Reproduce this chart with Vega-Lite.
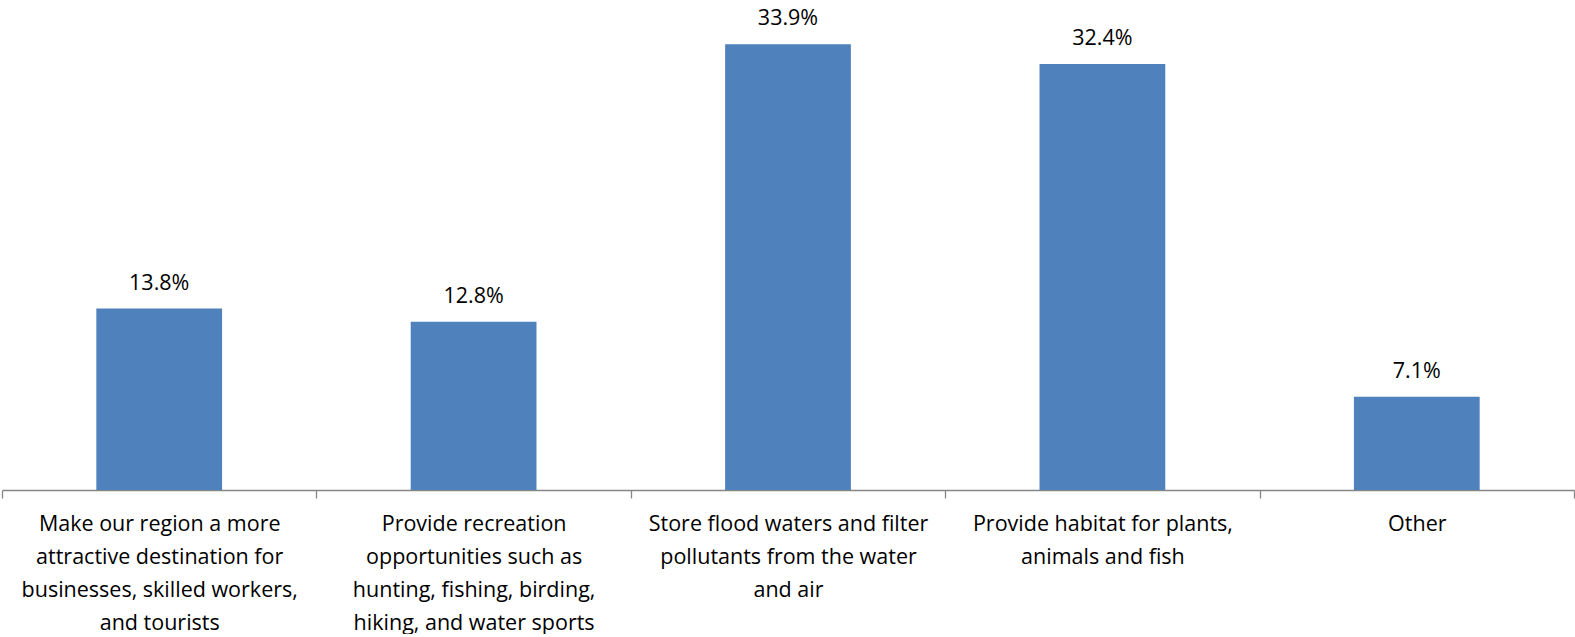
{
  "$schema": "https://vega.github.io/schema/vega-lite/v6.json",
  "width": 1572,
  "height": 490,
  "padding": {"left": 1, "top": 0, "right": 2, "bottom": 0},
  "autosize": {"type": "pad"},
  "background": "white",
  "config": {"view": {"stroke": null}, "font": "Open Sans"},
  "data": {
    "values": [
      {"category": "Make our region a more|attractive destination for|businesses, skilled workers,|and tourists", "share": 0.138},
      {"category": "Provide recreation|opportunities such as|hunting, fishing, birding,|hiking, and water sports", "share": 0.128},
      {"category": "Store flood waters and filter|pollutants from the water|and air", "share": 0.339},
      {"category": "Provide habitat for plants,|animals and fish", "share": 0.324},
      {"category": "Other", "share": 0.071}
    ]
  },
  "encoding": {
    "x": {
      "field": "category",
      "type": "nominal",
      "sort": null,
      "scale": {"paddingInner": 0, "paddingOuter": 0},
      "axis": {
        "title": null,
        "labelAngle": 0,
        "labelExpr": "split(datum.label, '|')",
        "labelFont": "Open Sans",
        "labelFontSize": 21.5,
        "labelColor": "#000000",
        "labelLineHeight": 33,
        "labelBaseline": "top",
        "labelPadding": 15,
        "labelLimit": 0,
        "labelOverlap": false,
        "domainColor": "#868686",
        "domainWidth": 1.3,
        "tickColor": "#868686",
        "tickWidth": 1.3,
        "tickSize": 8,
        "tickBand": "extent",
        "grid": false
      }
    },
    "y": {
      "field": "share",
      "type": "quantitative",
      "scale": {"domain": [0, 0.3726], "nice": false, "zero": true},
      "axis": null
    }
  },
  "layer": [
    {"mark": {"type": "bar", "color": "#4F81BD", "width": {"band": 0.4}}},
    {
      "mark": {"type": "text", "baseline": "alphabetic", "dy": -19, "font": "Open Sans", "fontSize": 21.5, "color": "#000000"},
      "encoding": {"text": {"field": "share", "type": "quantitative", "format": ".1%"}}
    }
  ]
}
